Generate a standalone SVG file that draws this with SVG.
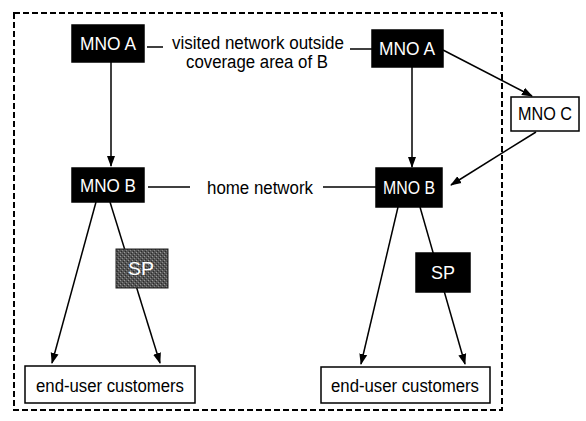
<svg xmlns="http://www.w3.org/2000/svg" width="586" height="421" viewBox="0 0 586 421">
<defs>
<marker id="ah" markerWidth="11" markerHeight="10" refX="10" refY="5" orient="auto" markerUnits="userSpaceOnUse">
<path d="M0,1 L11,5 L0,9 Z" fill="#000"/>
</marker>
<pattern id="grain" width="4" height="4" patternUnits="userSpaceOnUse">
<rect width="4" height="4" fill="#555"/>
<rect x="0" y="0" width="1" height="1" fill="#999"/>
<rect x="2" y="2" width="1" height="1" fill="#888"/>
<rect x="3" y="1" width="1" height="1" fill="#2a2a2a"/>
<rect x="1" y="3" width="1" height="1" fill="#2a2a2a"/>
</pattern>
</defs>
<style>
.dark{fill:#000;stroke:#000;stroke-width:1.5}
.light{fill:#fff;stroke:#000;stroke-width:1.5}
.wt{fill:#fff;font-family:"Liberation Sans",Arial,sans-serif;font-size:18px;text-anchor:middle}
.bt{fill:#000;font-family:"Liberation Sans",Arial,sans-serif;font-size:18px;text-anchor:middle}
.ln{stroke:#000;stroke-width:1.5;fill:none}
.arr{stroke:#000;stroke-width:1.5;fill:none;marker-end:url(#ah)}
.border{fill:none;stroke:#000;stroke-width:2;stroke-dasharray:6 3}
</style>
<rect class="border" x="14" y="13" width="488" height="397"/>
<g id="connectors">
<line class="ln" x1="147" y1="47" x2="163" y2="47"/>
<line class="ln" x1="350" y1="49" x2="372" y2="49"/>
<line class="ln" x1="148" y1="187" x2="190" y2="187"/>
<line class="ln" x1="323" y1="187" x2="376" y2="187"/>
<line class="arr" x1="111" y1="62" x2="111" y2="166"/>
<line class="arr" x1="412" y1="67" x2="412" y2="167"/>
<line class="arr" x1="443" y1="50" x2="532" y2="96"/>
<line class="arr" x1="536" y1="132" x2="451" y2="185"/>
<line class="arr" x1="96" y1="202" x2="52" y2="363"/>
<line class="arr" x1="110" y1="202" x2="160" y2="363"/>
<line class="arr" x1="398" y1="207" x2="361" y2="364"/>
<line class="arr" x1="420" y1="207" x2="465" y2="364"/>
</g>
<g id="label-visited">
<text class="bt" x="258" y="49" textLength="172" lengthAdjust="spacingAndGlyphs" font-size="19">visited network outside</text>
<text class="bt" x="257" y="68" textLength="142" lengthAdjust="spacingAndGlyphs" font-size="19">coverage area of B</text>
</g>
<g id="label-home">
<text class="bt" x="260" y="194" textLength="106" lengthAdjust="spacingAndGlyphs" font-size="19">home network</text>
</g>
<g id="mnoA-left">
<rect class="dark" x="72" y="25" width="72" height="37"/>
<text class="wt" x="108" y="50" textLength="56" lengthAdjust="spacingAndGlyphs">MNO A</text>
</g>
<g id="mnoA-right">
<rect class="dark" x="372" y="30" width="71" height="37"/>
<text class="wt" x="407" y="55" textLength="56" lengthAdjust="spacingAndGlyphs">MNO A</text>
</g>
<g id="mnoC">
<rect class="light" x="511" y="97" width="68" height="34"/>
<text class="bt" x="545" y="120" textLength="54" lengthAdjust="spacingAndGlyphs">MNO C</text>
</g>
<g id="mnoB-left">
<rect class="dark" x="72" y="168" width="72" height="34"/>
<text class="wt" x="108" y="192" textLength="56" lengthAdjust="spacingAndGlyphs">MNO B</text>
</g>
<g id="mnoB-right">
<rect class="dark" x="376" y="168" width="66" height="39"/>
<text class="wt" x="409" y="194" textLength="52" lengthAdjust="spacingAndGlyphs">MNO B</text>
</g>
<g id="sp-left">
<rect x="116" y="249" width="52" height="39" fill="url(#grain)" stroke="#222" stroke-width="1"/>
<text class="wt" x="141" y="275" textLength="26" lengthAdjust="spacingAndGlyphs">SP</text>
</g>
<g id="sp-right">
<rect class="dark" x="416" y="253" width="54" height="39"/>
<text class="wt" x="443" y="279" textLength="24" lengthAdjust="spacingAndGlyphs">SP</text>
</g>
<g id="users-left">
<rect class="light" x="25" y="366" width="170" height="37"/>
<text class="bt" x="110" y="392" textLength="148" lengthAdjust="spacingAndGlyphs" font-size="19">end-user customers</text>
</g>
<g id="users-right">
<rect class="light" x="321" y="367" width="169" height="36"/>
<text class="bt" x="405" y="392" textLength="148" lengthAdjust="spacingAndGlyphs" font-size="19">end-user customers</text>
</g>
</svg>
